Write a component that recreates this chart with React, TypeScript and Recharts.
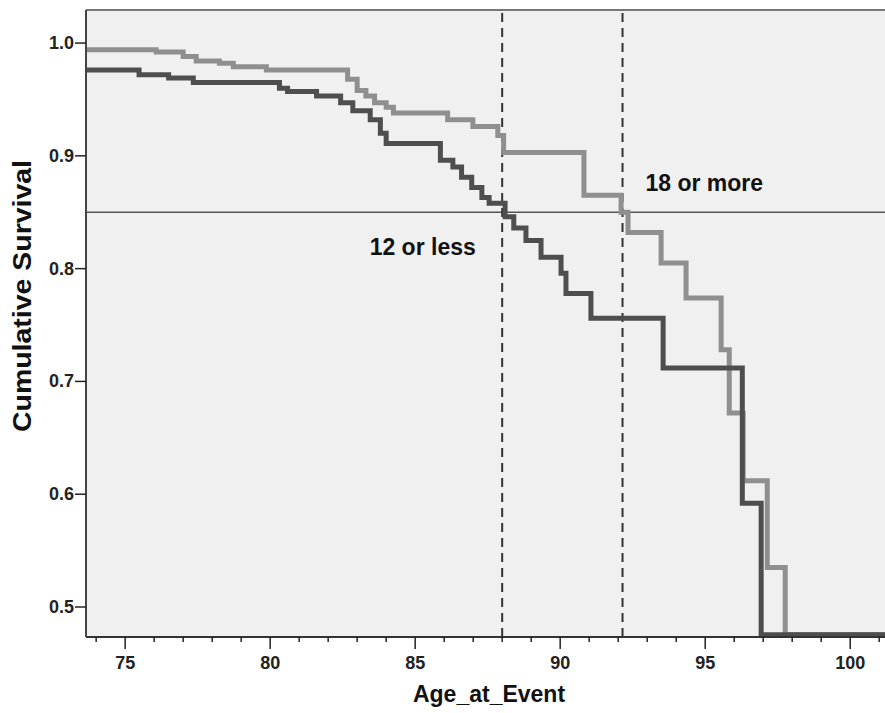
import React from "react";
import { LineChart, Line, XAxis, YAxis, CartesianGrid, ReferenceLine, ReferenceDot } from "recharts";

// 18 or more (light curve)
const lightAge = [73.65, 76.07, 77.0, 77.45, 78.25, 78.73, 79.87, 82.67, 83.0, 83.3, 83.6, 84.0, 84.25, 86.12, 86.99, 87.85, 88.05, 90.82, 92.1, 92.34, 93.48, 94.34, 95.55, 95.83, 96.31, 97.14, 97.76, 101.2];
const lightSurv = [0.994, 0.992, 0.988, 0.984, 0.982, 0.979, 0.976, 0.968, 0.958, 0.953, 0.947, 0.943, 0.938, 0.932, 0.926, 0.918, 0.903, 0.865, 0.85, 0.832, 0.805, 0.774, 0.728, 0.672, 0.612, 0.535, 0.4755, 0.4755];

// 12 or less (dark curve)
const darkAge = [73.65, 75.48, 76.5, 77.35, 80.32, 80.6, 81.6, 82.43, 82.85, 83.45, 83.8, 84.0, 85.87, 86.3, 86.6, 86.95, 87.3, 87.55, 88.1, 88.4, 88.82, 89.34, 90.03, 90.2, 91.06, 93.55, 96.28, 96.93, 101.2];
const darkSurv = [0.976, 0.972, 0.969, 0.965, 0.96, 0.957, 0.953, 0.947, 0.94, 0.932, 0.92, 0.911, 0.896, 0.89, 0.881, 0.872, 0.863, 0.858, 0.846, 0.836, 0.825, 0.81, 0.796, 0.778, 0.756, 0.712, 0.592, 0.4755, 0.4755];

const xTicks = [74, 75, 76, 77, 78, 79, 80, 81, 82, 83, 84, 85, 86, 87, 88, 89, 90, 91, 92, 93, 94, 95, 96, 97, 98, 99, 100, 101];
const yTicks = [0.5, 0.6, 0.7, 0.8, 0.9, 1.0];
const cutAges = [88.0, 92.15];
const cutSurv = 0.85;

const xMin = 73.65;
const xMax = 101.2;
const yMin = 0.4734;
const yMax = 1.0293;

const font = "'Liberation Sans', Arial, sans-serif";

const lightData = lightAge.map((a, i) => ({ age: a, s: lightSurv[i] }));
const darkData = darkAge.map((a, i) => ({ age: a, s: darkSurv[i] }));

const XTick = ({ x, y, payload }: any) => {
  const major = payload.value % 5 === 0;
  return (
    <g>
      <line x1={x} x2={x} y1={y} y2={y + (major ? 12 : 5)} stroke="#222" strokeWidth={1.5} />
      {major && (
        <text x={x} y={y + 32} textAnchor="middle" fontFamily={font} fontWeight="bold" fontSize={18} fill="#222">
          {payload.value}
        </text>
      )}
    </g>
  );
};

const YTick = ({ x, y, payload }: any) => (
  <g>
    <line x1={x - 11} x2={x} y1={y} y2={y} stroke="#222" strokeWidth={1.5} />
    <text x={x - 12} y={y + 6} textAnchor="end" fontFamily={font} fontWeight="bold" fontSize={18} fill="#222">
      {payload.value.toFixed(1)}
    </text>
  </g>
);

export default function App() {
  return (
    <div style={{ position: "absolute", left: 0, top: 0, width: 885, height: 713, background: "#fff" }}>
      <LineChart width={885} height={713} margin={{ top: 10, right: 0, bottom: 0, left: 0 }}>
        <CartesianGrid fill="#f0f0f0" horizontal={false} vertical={false} />
        <XAxis
          type="number"
          dataKey="age"
          domain={[xMin, xMax]}
          ticks={xTicks}
          allowDataOverflow
          height={76}
          tickSize={0}
          tickMargin={0}
          tickLine={false}
          tick={<XTick />}
          axisLine={{ stroke: "#333", strokeWidth: 2 }}
          interval={0}
          label={{
            content: () => (
              <text x={489} y={702} textAnchor="middle" fontFamily={font} fontWeight="bold" fontSize={23} fill="#111">
                Age_at_Event
              </text>
            ),
          }}
        />
        <YAxis
          type="number"
          domain={[yMin, yMax]}
          ticks={yTicks}
          allowDataOverflow
          width={86}
          tickSize={0}
          tickMargin={0}
          tickLine={false}
          tick={<YTick />}
          axisLine={{ stroke: "#444", strokeWidth: 2 }}
          interval={0}
          label={{
            content: () => (
              <text
                x={31}
                y={296}
                transform="rotate(-90 31 296)"
                textAnchor="middle"
                fontFamily={font}
                fontWeight="bold"
                fontSize={25}
                textLength={272}
                lengthAdjust="spacingAndGlyphs"
                fill="#111"
              >
                Cumulative Survival
              </text>
            ),
          }}
        />
        <ReferenceLine y={yMax} stroke="#777" strokeWidth={2} />
        <ReferenceLine y={cutSurv} stroke="#555" strokeWidth={1.5} />
        {cutAges.map((a) => (
          <ReferenceLine key={a} x={a} stroke="#333" strokeWidth={2} strokeDasharray="9 6" />
        ))}
        <Line
          data={lightData}
          dataKey="s"
          type="stepAfter"
          stroke="#8f8f8f"
          strokeWidth={5}
          dot={false}
          isAnimationActive={false}
        />
        <Line
          data={darkData}
          dataKey="s"
          type="stepAfter"
          stroke="#4e4e4e"
          strokeWidth={5}
          dot={false}
          isAnimationActive={false}
        />
        <ReferenceDot
          x={85.26}
          y={0.819}
          r={0}
          label={{ value: "12 or less", position: "center", fontFamily: font, fontWeight: "bold", fontSize: 23, fill: "#111" }}
        />
        <ReferenceDot
          x={94.97}
          y={0.876}
          r={0}
          label={{ value: "18 or more", position: "center", fontFamily: font, fontWeight: "bold", fontSize: 23, fill: "#111" }}
        />
      </LineChart>
    </div>
  );
}
